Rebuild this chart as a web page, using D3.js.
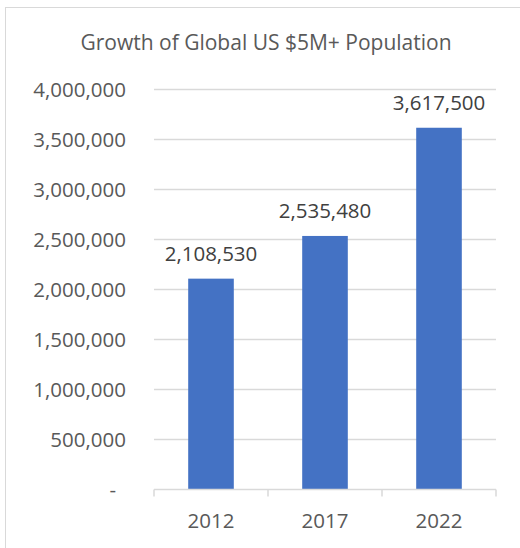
<!DOCTYPE html>
<html>
<head>
<meta charset="utf-8">
<title>Growth of Global US $5M+ Population</title>
<script src="https://cdn.jsdelivr.net/npm/d3@7"></script>
<style>
body { margin: 0; background: #fff; font-family: "Open Sans", sans-serif; }
</style>
</head>
<body>
<script>
var years = ["2012", "2017", "2022"];
var population = [2108530, 2535480, 3617500];
var yTicks = [0, 500000, 1000000, 1500000, 2000000, 2500000, 3000000, 3500000, 4000000];

var width = 520, height = 548;
var plotLeft = 154, plotRight = 496, plotTop = 89.5, plotBottom = 489.5;

var svg = d3.select("body").append("svg")
  .attr("width", width)
  .attr("height", height)
  .style("display", "block");

// chart border (right/bottom run off the picture)
svg.append("rect")
  .attr("x", 5.5).attr("y", 7.5)
  .attr("width", 530).attr("height", 560)
  .attr("fill", "none")
  .attr("stroke", "#d9d9d9");

svg.append("text")
  .attr("x", 266).attr("y", 50)
  .attr("text-anchor", "middle")
  .attr("font-size", 21)
  .attr("fill", "#595959")
  .text("Growth of Global US $5M+ Population");

var x = d3.scaleBand().domain(years).range([plotLeft, plotRight]).paddingInner(0.6).paddingOuter(0.3);
var y = d3.scaleLinear().domain([0, 4000000]).range([plotBottom, plotTop]);

var fmt = d3.format(",");

// gridlines
svg.append("g").selectAll("line")
  .data(yTicks.filter(function(d) { return d > 0; }))
  .enter().append("line")
  .attr("x1", plotLeft).attr("x2", plotRight)
  .attr("y1", function(d) { return y(d); })
  .attr("y2", function(d) { return y(d); })
  .attr("stroke", "#d9d9d9")
  .attr("stroke-width", 1.5);

// y labels (zero shown as accounting dash, padded in)
svg.append("g").selectAll("text")
  .data(yTicks)
  .enter().append("text")
  .attr("x", function(d) { return d === 0 ? 116 : 126; })
  .attr("y", function(d) { return y(d) + 7.5; })
  .attr("text-anchor", "end")
  .attr("font-size", 20.5)
  .attr("fill", "#595959")
  .text(function(d) { return d === 0 ? "-" : fmt(d); });

// bars
svg.append("g").selectAll("rect")
  .data(population)
  .enter().append("rect")
  .attr("x", function(d, i) { return x(years[i]); })
  .attr("width", x.bandwidth())
  .attr("y", function(d) { return y(d); })
  .attr("height", function(d) { return y(0) - y(d); })
  .attr("fill", "#4472C4");

// data labels
svg.append("g").selectAll("text")
  .data(population)
  .enter().append("text")
  .attr("x", function(d, i) { return x(years[i]) + x.bandwidth() / 2; })
  .attr("y", function(d) { return y(d) - 18; })
  .attr("text-anchor", "middle")
  .attr("font-size", 20.5)
  .attr("fill", "#404040")
  .text(function(d) { return fmt(d); });

// x axis
var step = x.step();
var ax = svg.append("g").attr("stroke", "#d9d9d9").attr("stroke-width", 1.5);
ax.append("line")
  .attr("x1", plotLeft).attr("x2", plotRight)
  .attr("y1", plotBottom).attr("y2", plotBottom);
ax.selectAll(".tick")
  .data(d3.range(years.length + 1))
  .enter().append("line")
  .attr("x1", function(i) { return plotLeft + i * step; })
  .attr("x2", function(i) { return plotLeft + i * step; })
  .attr("y1", plotBottom).attr("y2", plotBottom + 7);

svg.append("g").selectAll("text")
  .data(years)
  .enter().append("text")
  .attr("x", function(d) { return x(d) + x.bandwidth() / 2; })
  .attr("y", 528)
  .attr("text-anchor", "middle")
  .attr("font-size", 20.5)
  .attr("fill", "#595959")
  .text(function(d) { return d; });
</script>
</body>
</html>
